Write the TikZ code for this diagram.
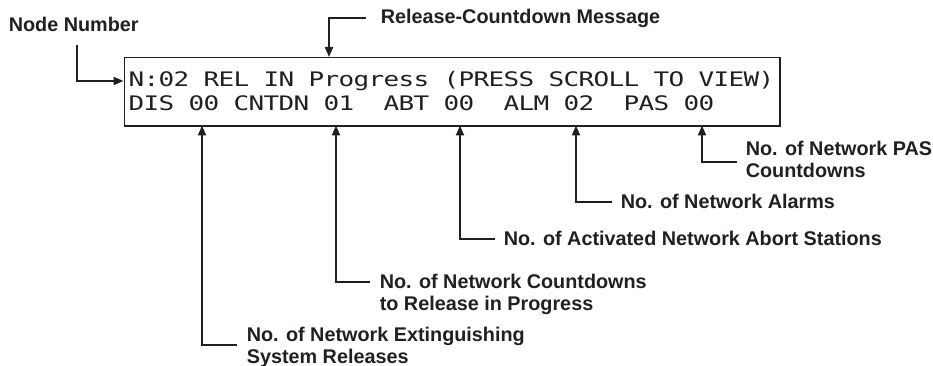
\documentclass[tikz,border=0pt]{standalone}
\usepackage{fontspec}
\setmainfont{Liberation Sans}
\newfontfamily\lcdfont[FakeStretch=1.3]{DejaVu Sans Mono}
\usetikzlibrary{arrows.meta}
\definecolor{ink}{RGB}{35,31,32}
\newlength\lcdw
\setlength\lcdw{15pt}
\makeatletter
\def\lcdend{LCDEND}
\def\lcdline#1{\lcd@go#1\lcdend}
\def\lcd@go#1{\ifx#1\lcdend\else\makebox[\lcdw]{#1}\expandafter\lcd@go\fi}
\makeatother
\tikzset{
  lbl/.style={anchor=base west, inner sep=0pt, align=left, text=ink,
    font=\bfseries\fontsize{19.8}{22}\selectfont},
  lcdtxt/.style={anchor=base west, inner sep=0pt, text=ink,
    font=\lcdfont\fontsize{20}{22}\selectfont},
  conn/.style={draw=ink, line width=2pt, -{Triangle[length=10pt,width=8pt]}},
}
\begin{document}
\begin{tikzpicture}[x=1pt,y=-1pt]
\useasboundingbox (0,0) rectangle (933,366);
% display box
\node[draw=ink, line width=1.5pt, minimum width=655.5pt, minimum height=68.5pt,
      inner sep=0pt, anchor=north west] (lcd) at (123.5,57) {};
\node[lcdtxt] (row1) at (128.8,86.5) {\lcdline{N:02~REL~IN~Progress~(PRESS~SCROLL~TO~VIEW)}};
\node[lcdtxt] (row2) at (128.8,110.5) {\lcdline{DIS~00~CNTDN~01~~ABT~00~~ALM~02~~PAS~00}};
% labels (base anchor = baseline of the last line)
\node[lbl] (lNode) at (8.6,32) {Node Number};
\node[lbl] (lRel) at (380.6,23.5) {Release-Countdown Message};
\node[lbl] (lPAS) at (745.6,177.5) {No. of Network PAS\\Countdowns};
\node[lbl] (lALM) at (620.6,208.5) {No. of Network Alarms};
\node[lbl] (lABT) at (503.6,245) {No. of Activated Network Abort Stations};
\node[lbl] (lCNT) at (379.6,310.5) {No. of Network Countdowns\\to Release in Progress};
\node[lbl] (lDIS) at (246.6,363.5) {No. of Network Extinguishing\\System Releases};
% connector ends
\coordinate (sNode) at (77,45);
\coordinate (tNode) at (123.5,81);
\coordinate (sRel) at (366,18);
\coordinate (tRel) at (329,57);
\coordinate (sPAS) at (737,162);
\coordinate (tPAS) at (702,125.5);
\coordinate (sALM) at (612,202);
\coordinate (tALM) at (576,125.5);
\coordinate (sABT) at (495,239);
\coordinate (tABT) at (460,125.5);
\coordinate (sCNT) at (370,282);
\coordinate (tCNT) at (336,125.5);
\coordinate (sDIS) at (237,344.5);
\coordinate (tDIS) at (202,125.5);
% connectors
\draw[conn] (sNode) |- (tNode);
\draw[conn] (sRel) -| (tRel);
\draw[conn] (sPAS) -| (tPAS);
\draw[conn] (sALM) -| (tALM);
\draw[conn] (sABT) -| (tABT);
\draw[conn] (sCNT) -| (tCNT);
\draw[conn] (sDIS) -| (tDIS);
\end{tikzpicture}
\end{document}
